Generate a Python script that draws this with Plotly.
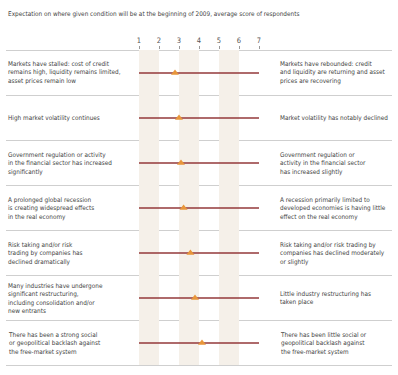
import plotly.graph_objects as go

title = "Expectation on where given condition will be at the beginning of 2009, average score of respondents"
left_labels = [
    "Markets have stalled: cost of credit<br>remains high, liquidity remains limited,<br>asset prices remain low",
    "High market volatility continues",
    "Government regulation or activity<br>in the financial sector has increased<br>significantly",
    "A prolonged global recession<br>is creating widespread effects<br>in the real economy",
    "Risk taking and/or risk<br>trading by companies has<br>declined dramatically",
    "Many industries have undergone<br>significant restructuring,<br>including consolidation and/or<br>new entrants",
    "There has been a strong social<br>or geopolitical backlash against<br>the free-market system",
]
right_labels = [
    "Markets have rebounded: credit<br>and liquidity are returning and asset<br>prices are recovering",
    "Market volatility has notably declined",
    "Government regulation or<br>activity in the financial sector<br>has increased slightly",
    "A recession primarily limited to<br>developed economies is having little<br>effect on the real economy",
    "Risk taking and/or risk trading by<br>companies has declined moderately<br>or slightly",
    "Little industry restructuring has<br>taken place",
    "There has been little social or<br>geopolitical backlash against<br>the free-market system",
]
scores = [2.8, 3.0, 3.1, 3.23, 3.57, 3.8, 4.15]
scale_ticks = [1, 2, 3, 4, 5, 6, 7]
band_ranges = [(1, 2), (3, 4), (5, 6)]

W, H = 398, 375
FONT = "DejaVu Sans Condensed, Liberation Sans Narrow, Roboto Condensed, Liberation Sans, Arial, sans-serif"
FS = 6.4
TEXT = "#444444"
rows = list(range(len(scores)))

fig = go.Figure()
for i, s in zip(rows, scores):
    fig.add_trace(go.Scatter(
        x=[scale_ticks[0], scale_ticks[-1]], y=[i, i], mode="lines",
        line=dict(color="#93383A", width=1.3), hoverinfo="skip", showlegend=False))
fig.add_trace(go.Scatter(
    x=scores, y=rows, mode="markers",
    marker=dict(symbol="triangle-up", size=7, color="#E8963A"),
    showlegend=False))

shapes = []
for a, b in band_ranges:
    shapes.append(dict(type="rect", xref="x", yref="y", x0=a, x1=b, y0=-0.511, y1=6.489,
                       fillcolor="#F5F0E9", line=dict(width=0), layer="below"))
for k in range(len(rows) + 1):
    shapes.append(dict(type="line", xref="paper", yref="y", x0=6 / W, x1=392 / W,
                       y0=k - 0.5, y1=k - 0.5, line=dict(color="#CFCFCF", width=1), layer="below"))

annotations = [dict(text=title, xref="paper", yref="paper", x=6 / W, y=1 - 14 / H,
                    xanchor="left", yanchor="middle", showarrow=False,
                    font=dict(family=FONT, size=FS, color=TEXT))]
for i in rows:
    annotations.append(dict(text=left_labels[i], xref="paper", yref="y", x=6 / W, y=i,
                            xanchor="left", yanchor="middle", align="left", showarrow=False,
                            font=dict(family=FONT, size=FS, color=TEXT)))
    annotations.append(dict(text=right_labels[i], xref="paper", yref="y", x=278 / W, y=i,
                            xanchor="left", yanchor="middle", align="left", showarrow=False,
                            font=dict(family=FONT, size=FS, color=TEXT)))

top_px = 50
plot_h = H - top_px
fig.update_layout(
    width=W, height=H, margin=dict(l=0, r=0, t=0, b=0),
    paper_bgcolor="white", plot_bgcolor="rgba(0,0,0,0)",
    shapes=shapes, annotations=annotations,
    xaxis=dict(range=[1 - 139 / 20, 1 - 139 / 20 + W / 20], side="top",
               tickvals=scale_ticks, ticktext=[str(t) for t in scale_ticks],
               ticks="outside", ticklen=3, tickcolor="#999999",
               tickfont=dict(family=FONT, size=7.5, color="#555555"),
               showgrid=False, zeroline=False, showline=False, fixedrange=True),
    yaxis=dict(domain=[0, 1 - top_px / H],
               range=[(plot_h - 23) / 45, -23 / 45],
               showticklabels=False, ticks="", showgrid=False, zeroline=False,
               showline=False, fixedrange=True),
)
fig.write_html("out.html", config={"displayModeBar": False},
               post_script="document.body.style.margin='0';")
